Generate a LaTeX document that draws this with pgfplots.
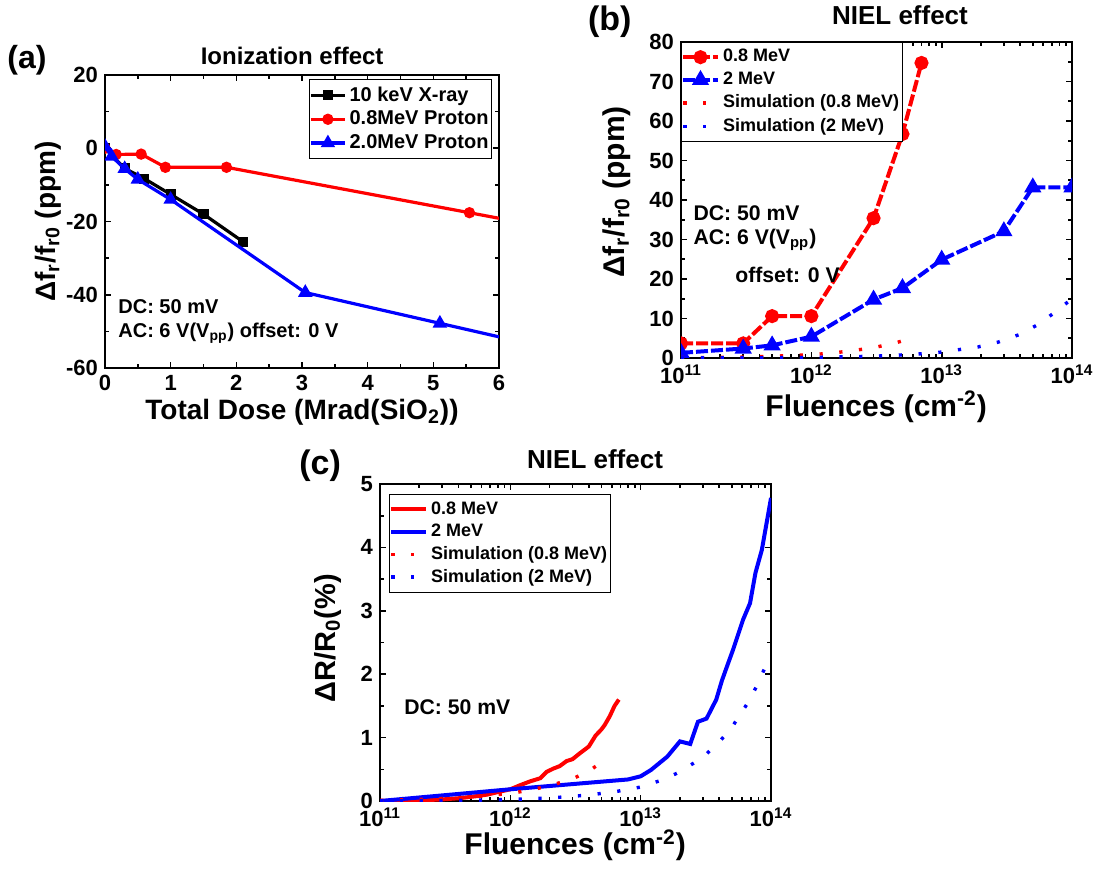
\documentclass[border=0pt]{standalone}
\usepackage{pgfplots}
\pgfplotsset{compat=1.18}
\usepackage{fontspec}
\setmainfont{Liberation Sans}

\newcommand{\fs}[1]{\bfseries\fontsize{#1}{#1}\selectfont}

\tikzset{note/.style={anchor=west, inner xsep=0pt}}

\pgfplotsset{
  every axis title shift=0pt,
  panel/.style={
    scale only axis,
    anchor=south west,
    clip mode=individual,
    axis line style={line width=1pt},
    every tick/.style={black, line width=0.8pt},
    major tick length=3pt,
    minor tick length=1.8pt,
    tick align=inside,
    tick pos=both,
    ticklabel style={font=\fs{11}},
    clip marker paths=true,
    legend cell align=left,
    xlabel style={anchor=center},
    ylabel style={anchor=center},
    title style={anchor=center},
  },
  logfluence/.style={
    xmin=1e11, xmax=1e14,
    xtick={1e11,1e12,1e13,1e14},
    xticklabels={10\textsuperscript{11},10\textsuperscript{12},10\textsuperscript{13},10\textsuperscript{14}},
    minor xtick={2e11,3e11,4e11,5e11,6e11,7e11,8e11,9e11,
                 2e12,3e12,4e12,5e12,6e12,7e12,8e12,9e12,
                 2e13,3e13,4e13,5e13,6e13,7e13,8e13,9e13},
  },
  simdots/.style={line width=1.7pt, dash pattern=on 1.6pt off 8.3pt},
}

\begin{document}
\begin{tikzpicture}
\useasboundingbox (0,0) rectangle (548.5pt,434.5pt);

% ---------------- (a) ionization effect ----------------
\begin{axis}[panel,
  at={(52.5pt,250.5pt)}, width=197pt, height=146.5pt,
  xmin=0, xmax=6, ymin=-60, ymax=20,
  xtick={0,1,2,3,4,5,6}, xticklabels={0,1,2,3,4,5,6},
  ytick={-60,-40,-20,0,20}, yticklabels={-60,-40,-20,0,20},
  minor x tick num=1, minor y tick num=1,
  title={Ionization effect},
  title style={at={(axis description cs:0.475,1.065)}, font=\fs{12}},
  xlabel={Total Dose (Mrad(SiO\textsubscript{2}))},
  xlabel style={at={(axis description cs:0.5,-0.15)}, font=\fs{14}},
  ylabel={Δf\textsubscript{r}/f\textsubscript{r0} (ppm)},
  ylabel style={at={(axis description cs:-0.145,0.5)}, font=\fs{14}},
  legend style={at={(0.982,0.986)}, anchor=north east, draw=black,
    font=\fs{10}, row sep=-0.6pt, inner xsep=0pt, inner ysep=1.5pt,
    nodes={inner xsep=1.5pt}},
]
\addplot[black, line width=1.6pt, mark=square*, mark size=1.75pt]
  coordinates {(0,0) (0.3,-5.5) (0.6,-8.3) (1.0,-12.6) (1.5,-18) (2.1,-25.5)};
\addlegendentry{10 keV X-ray}
\addplot[red, line width=1.6pt, mark=*, mark size=2pt]
  coordinates {(0,0) (0.17,-1.7) (0.55,-1.6) (0.92,-5.2) (1.85,-5.2) (5.55,-17.6) (7,-22.5)};
\addlegendentry{0.8MeV Proton}
\addplot[blue, line width=1.6pt, mark=triangle*, mark size=2.6pt]
  coordinates {(0,0.5) (0.1,-2.2) (0.3,-5.6) (0.5,-8.5) (1.0,-14) (3.05,-39.4) (5.1,-47.8) (7,-55.6)};
\addlegendentry{2.0MeV Proton}
\node[note, font=\fs{10}] at (axis cs:0.198,-43.3) {DC: 50 mV};
\node[note, font=\fs{10}] at (axis cs:0.198,-50.6) {AC: 6 V(V\textsubscript{pp}) offset: 0 V};
\node[font=\fs{16}] at (axis description cs:-0.198,1.051) {(a)};
\end{axis}

% ---------------- (b) NIEL effect, frequency shift ----------------
\begin{axis}[panel, xmode=log, logfluence,
  at={(340.5pt,255.5pt)}, width=195.5pt, height=158pt,
  ymin=0, ymax=80,
  ytick={0,10,20,30,40,50,60,70,80}, yticklabels={0,10,20,30,40,50,60,70,80},
  minor y tick num=1,
  title={NIEL effect},
  title style={at={(axis description cs:0.56,1.085)}, font=\fs{13}},
  xlabel={Fluences (cm\textsuperscript{-2})},
  xlabel style={at={(axis description cs:0.499,-0.155)}, font=\fs{15}},
  ylabel={Δf\textsubscript{r}/f\textsubscript{r0} (ppm)},
  ylabel style={at={(axis description cs:-0.164,0.525)}, font=\fs{15}},
  legend style={at={(0,1)}, anchor=north west, draw=black,
    font=\fs{9}, row sep=-0.4pt, inner xsep=0pt, inner ysep=1.5pt,
    nodes={inner xsep=1.8pt}},
]
\addplot[red, line width=2pt, dash pattern=on 6pt off 1.5pt, mark=*, mark size=2.5pt, mark options={solid}]
  coordinates {(1e11,3.7) (3e11,3.7) (5e11,10.6) (1e12,10.6) (3e12,35.4) (5e12,56.7) (7e12,74.7)};
\addlegendentry{0.8 MeV}
\addplot[blue, line width=2pt, dash pattern=on 6pt off 1.5pt, mark=triangle*, mark size=3pt, mark options={solid}]
  coordinates {(1e11,1.3) (3e11,2.4) (5e11,3.2) (1e12,5.4) (3e12,14.8) (5e12,17.7) (1e13,24.9) (3e13,32.1) (5e13,43.2) (1e14,43.2)};
\addlegendentry{2 MeV}
\addplot[red, simdots]
  coordinates {(1e11,0.09) (2e11,0.17) (3e11,0.26) (5e11,0.43) (1e12,0.85) (1.4e12,1.2) (2e12,1.8) (3e12,2.6) (4.5e12,3.9) (6.4e12,5.4)};
\addlegendentry{Simulation (0.8 MeV)}
\addplot[blue, simdots]
  coordinates {(1e11,0.015) (3e11,0.045) (1e12,0.15) (3e12,0.45) (6e12,0.9) (1e13,1.5) (1.9e13,2.8) (2.7e13,4.0) (4e13,6.0) (5.5e13,8.5) (7.2e13,11.3) (1e14,15)};
\addlegendentry{Simulation (2 MeV)}
\node[note, font=\fs{10.6}] at (axis description cs:0.031,0.459) {DC: 50 mV};
\node[note, font=\fs{10.6}] at (axis description cs:0.031,0.373) {AC: 6 V(V\textsubscript{pp})};
\node[note, font=\fs{10.6}] at (axis description cs:0.138,0.263) {offset: 0 V};
\node[font=\fs{17}] at (axis description cs:-0.182,1.063) {(b)};
\end{axis}

% ---------------- (c) NIEL effect, resistance change ----------------
\begin{axis}[panel, xmode=log, logfluence,
  at={(190pt,34pt)}, width=195.5pt, height=158.5pt,
  ymin=0, ymax=5,
  ytick={0,1,2,3,4,5}, yticklabels={0,1,2,3,4,5},
  minor y tick num=1,
  title={NIEL effect},
  title style={at={(axis description cs:0.55,1.079)}, font=\fs{13}},
  xlabel={Fluences (cm\textsuperscript{-2})},
  xlabel style={at={(axis description cs:0.499,-0.139)}, font=\fs{15}},
  ylabel={ΔR/R\textsubscript{0}(\%)},
  ylabel style={at={(axis description cs:-0.133,0.514)}, font=\fs{14.5}},
  legend style={at={(0.023,0.968)}, anchor=north west, draw=black,
    font=\fs{9}, row sep=-0.6pt, inner xsep=0pt, inner ysep=1.5pt,
    nodes={inner xsep=1.8pt}},
]
\addplot[red, line width=2pt]
  coordinates {(1e11,0) (1.5e11,0.005) (2.3e11,0.015) (3e11,0.025) (4.1e11,0.045) (5.2e11,0.07)
    (6.6e11,0.1) (8e11,0.14) (1e12,0.185) (1.19e12,0.25) (1.42e12,0.31) (1.7e12,0.36)
    (1.9e12,0.46) (2.13e12,0.51) (2.39e12,0.55) (2.7e12,0.63) (3.0e12,0.66) (3.4e12,0.75)
    (4.0e12,0.86) (4.5e12,1.03) (5.0e12,1.13) (5.3e12,1.2) (5.8e12,1.34) (6.3e12,1.5) (6.8e12,1.6)};
\addlegendentry{0.8 MeV}
\addplot[blue, line width=2pt]
  coordinates {(1e11,0) (1e12,0.185) (8e12,0.34) (1e13,0.39) (1.2e13,0.49) (1.6e13,0.7)
    (2e13,0.94) (2.4e13,0.9) (2.75e13,1.25) (3.2e13,1.3) (3.8e13,1.6) (4.2e13,1.9)
    (4.7e13,2.18) (5.1e13,2.38) (6.1e13,2.86) (6.9e13,3.12) (7.6e13,3.6) (8.5e13,3.96) (1e14,4.78)};
\addlegendentry{2 MeV}
\addplot[red, simdots]
  coordinates {(1e11,0.01) (2e11,0.025) (5e11,0.06) (1e12,0.12) (1.4e12,0.17) (2e12,0.24)
    (3e12,0.35) (4e12,0.47) (5.4e12,0.66)};
\addlegendentry{Simulation (0.8 MeV)}
\addplot[blue, simdots]
  coordinates {(1e11,0.002) (2e11,0.005) (5e11,0.012) (1e12,0.024) (2e12,0.047) (4e12,0.094)
    (6.5e12,0.15) (1e13,0.22) (1.5e13,0.34) (2e13,0.46) (3e13,0.69) (4e13,0.93) (5e13,1.16)
    (6.5e13,1.52) (8e13,1.86) (9.3e13,2.18)};
\addlegendentry{Simulation (2 MeV)}
\node[note, font=\fs{10.6}] at (axis description cs:0.061,0.297) {DC: 50 mV};
\node[font=\fs{17}] at (axis description cs:-0.153,1.057) {(c)};
\end{axis}
\end{tikzpicture}
\end{document}
